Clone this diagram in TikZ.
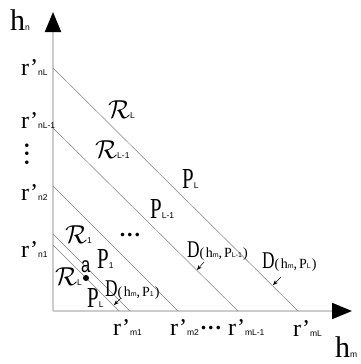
\RequirePackage{fix-cm}
\documentclass[tikz,border=0pt]{standalone}
\usepackage{fontspec}
\setmainfont{Liberation Serif}
\newfontfamily\subfont{Liberation Sans}
\newfontfamily\nserif[FakeStretch=0.72]{Liberation Serif}
\newfontfamily\nsans[FakeStretch=0.75]{Liberation Sans}
\usetikzlibrary{arrows.meta}
\newcommand\sbs[1]{{\fontsize{8.5}{9}\subfont #1}}
\newcommand\tsb[1]{{\fontsize{7}{7}\subfont #1}}
\newcommand\rp[1]{{\fontsize{24}{24}\selectfont r'}\sbs{#1}}
\newcommand\Pl[1]{{\fontsize{29}{29}\nserif P}\sbs{#1}}
\newcommand\Rc[1]{{\fontsize{26}{26}\selectfont$\mathcal{R}$}\sbs{#1}}
\newcommand\Dl[1]{{\fontsize{24}{24}\nserif D}{\fontsize{14}{14}\selectfont(\kern1.5pt h\tsb{m},\kern2pt P\tsb{#1}\kern1pt)}}
\begin{document}
\begin{tikzpicture}[x=1pt,y=-1pt,
  axis/.style={draw=black!20, line width=2pt, -{Triangle[length=20pt,width=16pt,color=black]}},
  diag/.style={draw=black!50, line width=0.5pt},
  darrow/.style={draw=black, line width=0.5pt, -{Stealth[length=5pt,width=4pt]}},
  lab/.style={inner sep=0pt, anchor=base west},
  dotsv/.style={inner sep=0pt, font=\fontsize{22}{22}\bfseries},
  dotsh/.style={inner sep=0pt, anchor=base, font=\fontsize{22}{22}\bfseries},
  pt/.style={circle, fill=black, inner sep=0pt, minimum size=6pt}]
\useasboundingbox (0,0) rectangle (360,364);
\fill[white] (0,0) rectangle (360,364);
% axes
\coordinate (O) at (53,311);
\coordinate (ytip) at (53,12);
\coordinate (xtip) at (352,311);
\draw[axis] (O) -- (ytip);
\draw[axis] (O) -- (xtip);
% diagonal lines
\coordinate (nL) at (53,68);   \coordinate (mL) at (298,311);
\coordinate (nLa) at (53,128); \coordinate (mLa) at (238,311);
\coordinate (n2) at (53,186);  \coordinate (m2) at (178,311);
\coordinate (nB) at (53,234);  \coordinate (mB) at (130,311);
\coordinate (n1) at (53,245);  \coordinate (m1) at (119,311);
\draw[diag] (nL) -- (mL);
\draw[diag] (nLa) -- (mLa);
\draw[diag] (n2) -- (m2);
\draw[diag] (nB) -- (mB);
\draw[diag] (n1) -- (m1);
% point a
\node[pt] (a) at (86,278) {};
\node[lab] (alab) at (81,272) {{\fontsize{22}{22}\nsans a}};
% axis labels
\node[lab] (hn) at (10,30) {{\fontsize{30}{30}\selectfont h}\sbs{n}};
\node[lab] (hm) at (335,357) {{\fontsize{30}{30}\selectfont h}\sbs{m}};
% left tick labels
\node[lab] (rnL) at (21,75) {\rp{nL}};
\node[lab] (rnLa) at (21,128) {\rp{nL-1}};
\node[dotsv] (vd) at (27,154) {\rotatebox{90}{.\kern3pt.\kern3pt.}};
\node[lab] (rn2) at (21,200) {\rp{n2}};
\node[lab] (rn1) at (21,257) {\rp{n1}};
% bottom tick labels
\node[lab] (rm1) at (113,335) {\rp{m1}};
\node[lab] (rm2) at (170,335) {\rp{m2}};
\node[dotsh] (hd) at (211,329) {.\kern2pt.\kern2pt.};
\node[lab] (rmLa) at (228,335) {\rp{mL-1}};
\node[lab] (rmL) at (293,336) {\rp{mL}};
% region labels
\node[lab] (RL) at (108,118) {\Rc{L}};
\node[lab] (RLa) at (95,158) {\Rc{L-1}};
\node[lab] (R1) at (65,243) {\Rc{1}};
\node[lab] (RLb) at (55,285) {\Rc{L}};
\node[dotsh] (md) at (130,236) {.\kern2pt.\kern2pt.};
% P labels
\node[lab] (PL) at (182,188) {\Pl{L}};
\node[lab] (PLa) at (150,218) {\Pl{L-1}};
\node[lab] (P1) at (97,268) {\Pl{1}};
\node[lab] (PLb) at (87,307) {\Pl{L}};
% distance labels
\node[lab] (D1) at (105,296) {\Dl{1}};
\node[lab] (DLa) at (187,257) {\Dl{L-1}};
\node[lab] (DL) at (262,268) {\Dl{L}};
\coordinate (d1s) at (121,298); \coordinate (d1e) at (114,305);
\coordinate (dLas) at (204,262); \coordinate (dLae) at (197,270);
\coordinate (dLs) at (281,277); \coordinate (dLe) at (273,285);
\draw[darrow] (d1s) -- (d1e);
\draw[darrow] (dLas) -- (dLae);
\draw[darrow] (dLs) -- (dLe);
\end{tikzpicture}
\end{document}
